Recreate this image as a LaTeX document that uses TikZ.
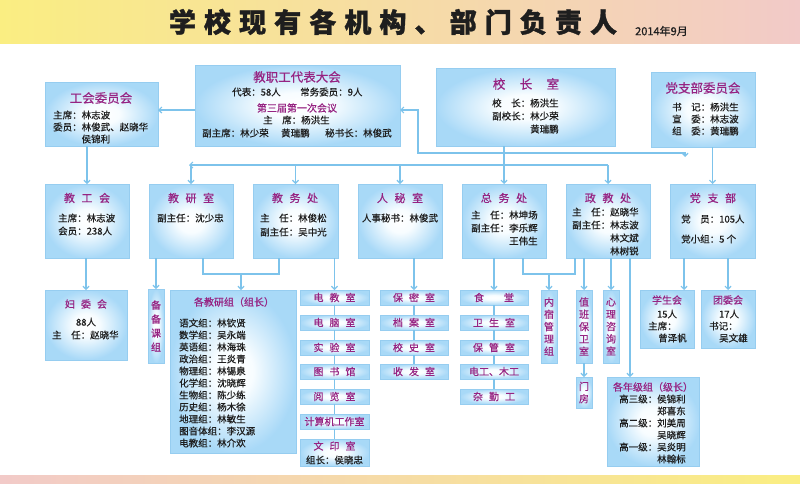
\documentclass[tikz,border=0pt]{standalone}
\usepackage{fontspec}
\newfontfamily\cjk[FakeBold=0.6]{Noto Sans CJK SC}
\newfontfamily\cjkt[LetterSpace=30,FakeBold=1.2]{Noto Sans CJK SC}
\usetikzlibrary{arrows.meta,calc}
\definecolor{txtc}{RGB}{30,30,30}
\definecolor{ttlc}{RGB}{150,35,130}
\definecolor{bxline}{RGB}{150,205,240}
\definecolor{lnc}{RGB}{125,195,235}
\definecolor{bandY}{RGB}{250,238,130}
\definecolor{bandP}{RGB}{242,202,200}
\definecolor{bandM}{RGB}{247,222,185}
\pgfdeclareradialshading{boxshade}{\pgfpoint{0bp}{0bp}}{rgb(0bp)=(1,1,1); rgb(8bp)=(0.97,0.99,1); rgb(25bp)=(0.66,0.85,0.97); rgb(50bp)=(0.66,0.85,0.97)}
\newcommand\gp{\hspace{0.6em}}
\tikzset{
  box/.style={draw=bxline, line width=0.7pt, shade, shading=boxshade, anchor=north west, inner sep=0pt, outer sep=0pt},
  sbox/.style={box, text=ttlc, font=\cjk\fontsize{10}{12}\selectfont},
  vbox/.style={box, text=ttlc, align=center, font=\cjk\fontsize{10}{12.3}\selectfont},
  txtL/.style={anchor=west, inner sep=0pt, text=txtc, font=\cjk\fontsize{9.5}{12}\selectfont},
  txtC/.style={inner sep=0pt, text=txtc, font=\cjk\fontsize{9.5}{12}\selectfont},
  ttlA/.style={inner sep=0pt, text=ttlc, font=\cjk\fontsize{12.5}{14}\selectfont},
  ttlB/.style={inner sep=0pt, text=ttlc, font=\cjk\fontsize{11}{13}\selectfont},
  ttlC/.style={inner sep=0pt, text=ttlc, font=\cjk\fontsize{10}{12}\selectfont},
  ln/.style={draw=lnc, line width=1.2pt},
  arr/.style={ln, -{Straight Barb[length=3pt,width=6pt]}},
}
\begin{document}
\begin{tikzpicture}[x=1pt,y=-1pt]
\useasboundingbox (0,0) rectangle (800,483);
\fill[white] (0,0) rectangle (800,483);
% bands
\shade[left color=bandY, middle color=bandM, right color=bandP] (0,0) rectangle (800,43);
\shade[left color=bandP, middle color=bandM, right color=bandY] (0,475) rectangle (800,483);
\node[inner sep=0pt, text=txtc, font=\cjkt\bfseries\fontsize{27}{30}\selectfont] (title) at (393,22) {学校现有各机构、部门负责人};
\node[inner sep=0pt, anchor=west, text=txtc, font=\cjk\fontsize{11}{12}\selectfont] (date) at (635,31) {2014年9月};

% ---------- top row boxes
\node[box, minimum width=113pt, minimum height=64pt] (gwh) at (45,82) {};
\node[box, minimum width=205pt, minimum height=81pt] (jzdh) at (195,65) {};
\node[box, minimum width=179pt, minimum height=78pt] (xzs) at (436,68) {};
\node[box, minimum width=104pt, minimum height=75pt] (dzbw) at (651,72) {};

\node[ttlA] (gwhT) at (101,98) {工会委员会};
\node[txtL] (gwh1) at (53,115) {主席：林志波};
\node[txtL] (gwh2) at (53,127) {委员：林俊武、赵晓华};
\node[txtL] (gwh3) at (53,139) {\phantom{委员：}侯锦利};

\node[ttlA] (jzT) at (297,77) {教职工代表大会};
\node[txtL] (jz1) at (232,92) {代表：58人};
\node[txtL] (jz2) at (300,92) {常务委员：9人};
\node[ttlC] (jz3) at (297,108) {第三届第一次会议};
\node[txtL] (jz4) at (263,120) {主　席：杨洪生};
\node[txtL] (jz5) at (202,133) {副主席：林少荣};
\node[txtL] (jz6) at (281,133) {黄瑞鹏};
\node[txtL] (jz7) at (325,133) {秘书长：林俊武};

\node[ttlA] (xzT) at (526,84) {校\hspace{1.15em}长\hspace{1.15em}室};
\node[txtL] (xz1) at (492,103) {校　长：杨洪生};
\node[txtL] (xz2) at (492,116) {副校长：林少荣};
\node[txtL] (xz3) at (492,129) {\phantom{副校长：}黄瑞鹏};

\node[ttlA] (dwT) at (703,88) {党支部委员会};
\node[txtL] (dw1) at (672,107) {书　记：杨洪生};
\node[txtL] (dw2) at (672,119) {宣　委：林志波};
\node[txtL] (dw3) at (672,131) {组　委：黄瑞鹏};

% ---------- second row
\node[box, minimum width=84pt, minimum height=74pt] (jgh) at (45,184) {};
\node[box, minimum width=84pt, minimum height=74pt] (jys) at (149,184) {};
\node[box, minimum width=85pt, minimum height=74pt] (jwc) at (253,184) {};
\node[box, minimum width=84pt, minimum height=74pt] (rms) at (358,184) {};
\node[box, minimum width=84pt, minimum height=74pt] (zwc) at (462,184) {};
\node[box, minimum width=84pt, minimum height=74pt] (zjc) at (566,184) {};
\node[box, minimum width=85pt, minimum height=74pt] (dzb) at (670,184) {};

\node[ttlB] (jghT) at (87,198) {教\gp 工\gp 会};
\node[txtL] (jgh1) at (58,218) {主席：林志波};
\node[txtL] (jgh2) at (58,231) {会员：238人};

\node[ttlB] (jysT) at (191,198) {教\gp 研\gp 室};
\node[txtL] (jys1) at (157,218) {副主任：沈少忠};

\node[ttlB] (jwcT) at (295,198) {教\gp 务\gp 处};
\node[txtL] (jwc1) at (260,218) {主　任：林俊松};
\node[txtL] (jwc2) at (260,232) {副主任：吴中光};

\node[ttlB] (rmsT) at (400,198) {人\gp 秘\gp 室};
\node[txtC] (rms1) at (400,218) {人事秘书：林俊武};

\node[ttlB] (zwcT) at (504,198) {总\gp 务\gp 处};
\node[txtL] (zwc1) at (471,215) {主　任：林坤场};
\node[txtL] (zwc2) at (471,228) {副主任：李乐辉};
\node[txtL] (zwc3) at (471,241) {\phantom{副主任：}王伟生};

\node[ttlB] (zjcT) at (608,198) {政\gp 教\gp 处};
\node[txtL] (zjc1) at (572,212) {主　任：赵晓华};
\node[txtL] (zjc2) at (572,225) {副主任：林志波};
\node[txtL] (zjc3) at (572,238) {\phantom{副主任：}林文斌};
\node[txtL] (zjc4) at (572,251) {\phantom{副主任：}林树锐};

\node[ttlB] (dzbT) at (713,198) {党\gp 支\gp 部};
\node[txtL] (dzb1) at (681,219) {党　员：105人};
\node[txtL] (dzb2) at (681,239) {党小组：5 个};

% ---------- third row
\node[box, minimum width=82pt, minimum height=70pt] (fwh) at (45,290) {};
\node[ttlC] (fwhT) at (86,304) {妇\gp 委\gp 会};
\node[txtC] (fwh1) at (86,322) {88人};
\node[txtL] (fwh2) at (52,335) {主　任：赵晓华};

\node[vbox, minimum width=16pt, minimum height=74pt, font=\cjk\fontsize{10}{14}\selectfont] (bbk) at (148,289) {备\\备\\课\\组};

\node[box, minimum width=126pt, minimum height=163pt] (jyz) at (170,290) {};
\node[ttlC] (jyzT) at (234,302) {各教研组（组长）};
\foreach \s [count=\i] in {语文组：林钦贤,数学组：吴永端,英语组：林海珠,政治组：王炎青,物理组：林锡泉,化学组：沈晓辉,生物组：陈少练,历史组：杨木徐,地理组：林敏生,图音体组：李汉源,电教组：林介欢}
  \node[txtL] (jy\i) at (179,{311+12*\i}) {\s};

% column 1
\node[sbox, minimum width=69pt, minimum height=15pt] (c1a) at (300,290) {电\gp 教\gp 室};
\node[sbox, minimum width=69pt, minimum height=15pt] (c1b) at (300,315) {电\gp 脑\gp 室};
\node[sbox, minimum width=69pt, minimum height=15pt] (c1c) at (300,340) {实\gp 验\gp 室};
\node[sbox, minimum width=69pt, minimum height=15pt] (c1d) at (300,364) {图\gp 书\gp 馆};
\node[sbox, minimum width=69pt, minimum height=15pt] (c1e) at (300,389) {阅\gp 览\gp 室};
\node[sbox, minimum width=69pt, minimum height=15pt] (c1f) at (300,414) {计算机工作室};
\node[box, minimum width=69pt, minimum height=27pt] (c1g) at (300,439) {};
\node[ttlC] (c1gT) at (334.5,446) {文\gp 印\gp 室};
\node[txtC] (c1g1) at (334.5,460) {组长：侯晓忠};

% column 2
\node[sbox, minimum width=68pt, minimum height=15pt] (c2a) at (380,290) {保\gp 密\gp 室};
\node[sbox, minimum width=68pt, minimum height=15pt] (c2b) at (380,315) {档\gp 案\gp 室};
\node[sbox, minimum width=68pt, minimum height=15pt] (c2c) at (380,340) {校\gp 史\gp 室};
\node[sbox, minimum width=68pt, minimum height=15pt] (c2d) at (380,364) {收\gp 发\gp 室};

% column 3
\node[sbox, minimum width=68pt, minimum height=15pt] (c3a) at (460,290) {食\hspace{2em}堂};
\node[sbox, minimum width=68pt, minimum height=15pt] (c3b) at (460,315) {卫\gp 生\gp 室};
\node[sbox, minimum width=68pt, minimum height=15pt] (c3c) at (460,340) {保\gp 管\gp 室};
\node[sbox, minimum width=68pt, minimum height=15pt] (c3d) at (460,364) {电工、木工};
\node[sbox, minimum width=68pt, minimum height=15pt] (c3e) at (460,389) {杂\gp 勤\gp 工};

% narrow vertical boxes
\node[vbox, minimum width=16pt, minimum height=73pt] (nsg) at (541,290) {内\\宿\\管\\理\\组};
\node[vbox, minimum width=16pt, minimum height=73pt] (zbb) at (576,290) {值\\班\\保\\卫\\室};
\node[vbox, minimum width=16pt, minimum height=31pt] (mf) at (576,377) {门\\房};
\node[vbox, minimum width=16pt, minimum height=73pt] (xl) at (603,290) {心\\理\\咨\\询\\室};

% grade groups
\node[box, minimum width=92pt, minimum height=89pt] (njz) at (607,377) {};
\node[ttlC] (njzT) at (653,387) {各年级组（级长）};
\node[txtL] (nj1) at (619,399) {高三级：侯锦利};
\node[txtL] (nj2) at (619,411) {\phantom{高三级：}郑喜东};
\node[txtL] (nj3) at (619,423) {高二级：刘美周};
\node[txtL] (nj4) at (619,435) {\phantom{高二级：}吴晓辉};
\node[txtL] (nj5) at (619,447) {高一级：吴炎明};
\node[txtL] (nj6) at (619,459) {\phantom{高一级：}林翰标};

% student union, youth league
\node[box, minimum width=54pt, minimum height=58pt] (xsh) at (640,290) {};
\node[ttlC] (xshT) at (667,300) {学生会};
\node[txtC] (xsh1) at (667,314) {15人};
\node[txtL] (xsh2) at (648,326) {主席：};
\node[txtL] (xsh3) at (658,338) {曾泽帆};

\node[box, minimum width=54pt, minimum height=58pt] (twh) at (701,290) {};
\node[ttlC] (twhT) at (728,300) {团委会};
\node[txtC] (twh1) at (729,314) {17人};
\node[txtL] (twh2) at (709,326) {书记：};
\node[txtL] (twh3) at (719,338) {吴文雄};

% ---------- connectors
\coordinate (tA) at (0,110);
\coordinate (hA) at (418,153);
\coordinate (hB) at (685,153);
\coordinate (hC) at (685,157);
\coordinate (rowL) at (0,165);
\coordinate (rowE) at (189,165);
\coordinate (j1) at (203,274);
\coordinate (j2) at (279,274);
\coordinate (j3) at (241,274);
\coordinate (j4) at (523,274);
\coordinate (j5) at (575,274);
\coordinate (j6) at (630,274);
\coordinate (j7) at (684,274);
\coordinate (j8) at (728,274);

\draw[arr] (jzdh.west |- tA) -- (gwh.east |- tA);
\draw[arr] (jgh.north |- gwh.south) -- (jgh.north);
\draw[arr] (dzb.north |- dzbw.south) -- (dzb.north);
\draw[ln] (zwc.north |- xzs.south) -- (zwc.north |- rowL);
\draw[arr] (zwc.north |- hA) -- (hA) -- (hA |- tA) -- (jzdh.east |- tA);
\draw[arr] (zwc.north |- hA) -- (hB) -- (hC);
\draw[arr] (zjc.north |- rowL) -- (rowE);
\foreach \n in {jys,jwc,rms,zwc,zjc}
  \draw[arr] (\n.north |- rowL) -- (\n.north);

\draw[arr] (fwh.north |- jgh.south) -- (fwh.north);
\draw[arr] (bbk.north |- jys.south) -- (bbk.north);
\draw[ln] (j1 |- jys.south) -- (j1) -- (j2) -- (j2 |- jwc.south);
\draw[arr] (j3) -- (j3 |- jyz.north);
\draw[arr] (c1a.north |- jwc.south) -- (c1a.north);
\draw[arr] (c2a.north |- rms.south) -- (c2a.north);
\draw[arr] (c3a.north |- zwc.south) -- (c3a.north);
\draw[ln] (j4 |- zwc.south) -- (j4) -- (j5) -- (j5 |- zjc.south);
\draw[arr] (nsg.north |- j4) -- (nsg.north);
\draw[arr] (zbb.north |- zjc.south) -- (zbb.north);
\draw[arr] (xl.north |- zjc.south) -- (xl.north);
\draw[arr] (j6 |- zjc.south) -- (j6 |- njz.north);
\draw[arr] (j7 |- dzb.south) -- (j7 |- xsh.north);
\draw[arr] (j8 |- dzb.south) -- (j8 |- twh.north);
\draw[arr] (zbb.south) -- (mf.north);

\draw[ln] (c1a.south) -- (c1b.north) (c1b.south) -- (c1c.north) (c1c.south) -- (c1d.north)
          (c1d.south) -- (c1e.north) (c1e.south) -- (c1f.north) (c1f.south) -- (c1g.north);
\draw[ln] (c2a.south) -- (c2b.north) (c2b.south) -- (c2c.north) (c2c.south) -- (c2d.north);
\draw[ln] (c3a.south) -- (c3b.north) (c3b.south) -- (c3c.north) (c3c.south) -- (c3d.north)
          (c3d.south) -- (c3e.north);
\end{tikzpicture}
\end{document}
